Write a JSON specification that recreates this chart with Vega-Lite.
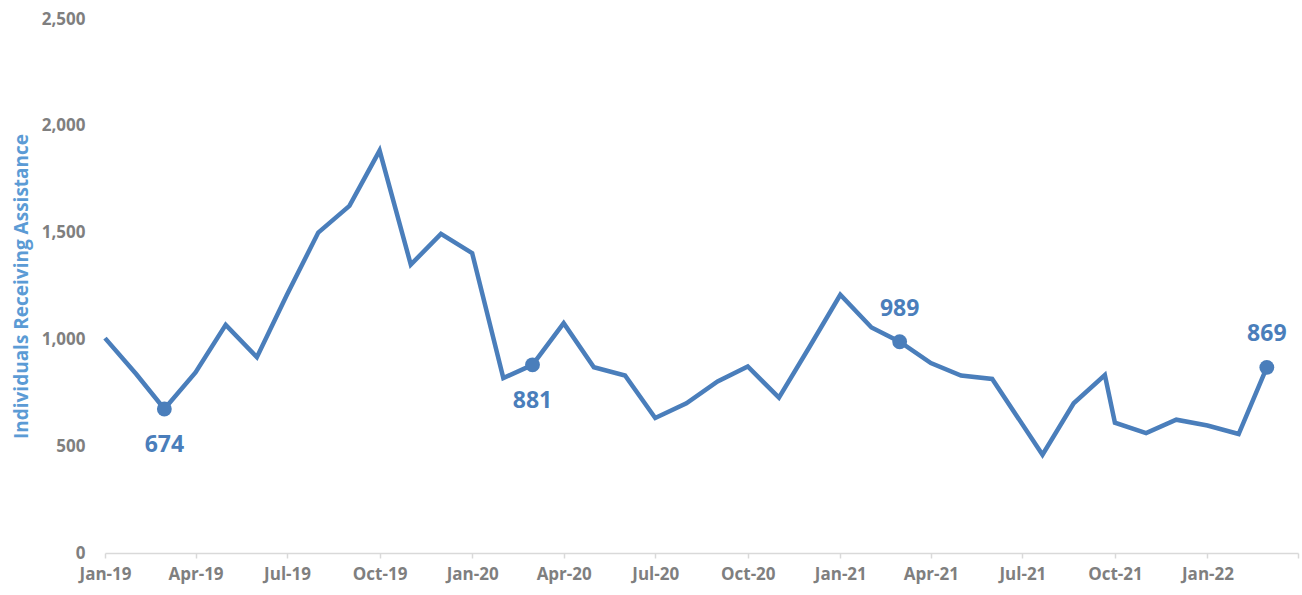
{
  "$schema": "https://vega.github.io/schema/vega-lite/v6.json",
  "width": 1193,
  "height": 534,
  "autosize": {"type": "none"},
  "padding": {"left": 105, "top": 19, "right": 4, "bottom": 42},
  "background": "white",
  "config": {"view": {"stroke": null}, "font": "Open Sans"},
  "data": {"values": [
    {"date": "2019-01-01", "value": 1006, "label": false},
    {"date": "2019-02-01", "value": 838, "label": false},
    {"date": "2019-03-01", "value": 674, "label": true},
    {"date": "2019-04-01", "value": 845, "label": false},
    {"date": "2019-05-01", "value": 1068, "label": false},
    {"date": "2019-06-01", "value": 917, "label": false},
    {"date": "2019-07-01", "value": 1210, "label": false},
    {"date": "2019-08-01", "value": 1500, "label": false},
    {"date": "2019-09-01", "value": 1625, "label": false},
    {"date": "2019-10-01", "value": 1884, "label": false},
    {"date": "2019-11-01", "value": 1350, "label": false},
    {"date": "2019-12-01", "value": 1494, "label": false},
    {"date": "2020-01-01", "value": 1404, "label": false},
    {"date": "2020-02-01", "value": 819, "label": false},
    {"date": "2020-03-01", "value": 881, "label": true},
    {"date": "2020-04-01", "value": 1076, "label": false},
    {"date": "2020-05-01", "value": 870, "label": false},
    {"date": "2020-06-01", "value": 831, "label": false},
    {"date": "2020-07-01", "value": 632, "label": false},
    {"date": "2020-08-01", "value": 701, "label": false},
    {"date": "2020-09-01", "value": 803, "label": false},
    {"date": "2020-10-01", "value": 873, "label": false},
    {"date": "2020-11-01", "value": 727, "label": false},
    {"date": "2020-12-01", "value": 962, "label": false},
    {"date": "2021-01-01", "value": 1209, "label": false},
    {"date": "2021-02-01", "value": 1056, "label": false},
    {"date": "2021-03-01", "value": 989, "label": true},
    {"date": "2021-04-01", "value": 889, "label": false},
    {"date": "2021-05-01", "value": 831, "label": false},
    {"date": "2021-06-01", "value": 815, "label": false},
    {"date": "2021-07-21", "value": 460, "label": false},
    {"date": "2021-08-21", "value": 701, "label": false},
    {"date": "2021-09-21", "value": 833, "label": false},
    {"date": "2021-10-01", "value": 610, "label": false},
    {"date": "2021-11-01", "value": 561, "label": false},
    {"date": "2021-12-01", "value": 624, "label": false},
    {"date": "2022-01-01", "value": 597, "label": false},
    {"date": "2022-02-01", "value": 557, "label": false},
    {"date": "2022-03-01", "value": 869, "label": true}
  ]},
  "encoding": {
    "x": {
      "field": "date",
      "type": "temporal",
      "scale": {"type": "utc", "domain": ["2019-01-01", "2022-04-01"]},
      "axis": {
        "title": null,
        "grid": false,
        "values": ["2019-01-01", "2019-04-01", "2019-07-01", "2019-10-01", "2020-01-01", "2020-04-01", "2020-07-01", "2020-10-01", "2021-01-01", "2021-04-01", "2021-07-01", "2021-10-01", "2022-01-01", "2022-04-01"],
        "format": "%b-%y",
        "labelExpr": "datum.value >= 1648771200000 ? '' : datum.label",
        "labelFlush": false,
        "labelOverlap": false,
        "domainColor": "#D9D9D9",
        "domainWidth": 1.5,
        "tickColor": "#D9D9D9",
        "tickWidth": 1.5,
        "tickSize": 5,
        "labelPadding": 8,
        "labelFont": "Open Sans",
        "labelFontSize": 17,
        "labelFontWeight": "bold",
        "labelColor": "#7F7F7F"
      }
    },
    "y": {
      "field": "value",
      "type": "quantitative",
      "scale": {"domain": [0, 2500], "nice": false},
      "axis": {
        "title": "Individuals Receiving Assistance",
        "titleFont": "Open Sans",
        "titleFontSize": 19,
        "titleFontWeight": "bold",
        "titleColor": "#5B9BD5",
        "titlePadding": 10,
        "values": [0, 500, 1000, 1500, 2000, 2500],
        "format": ",.0f",
        "grid": false,
        "domain": false,
        "ticks": false,
        "labelPadding": 20,
        "labelFont": "Open Sans",
        "labelFontSize": 17,
        "labelFontWeight": "bold",
        "labelColor": "#7F7F7F"
      }
    }
  },
  "layer": [
    {"mark": {"type": "line", "color": "#4A7EBB", "strokeWidth": 4.5, "strokeJoin": "miter", "strokeCap": "butt"}},
    {
      "transform": [{"filter": "datum.label"}],
      "mark": {"type": "point", "filled": true, "color": "#4A7EBB", "size": 220, "opacity": 1}
    },
    {
      "transform": [{"filter": "datum.label && utcyear(datum.date) < 2021"}],
      "mark": {"type": "text", "color": "#4A7EBB", "font": "Open Sans", "fontSize": 23, "fontWeight": "bold", "baseline": "middle", "dy": 36},
      "encoding": {"text": {"field": "value", "type": "quantitative", "format": ",.0f"}}
    },
    {
      "transform": [{"filter": "datum.label && utcyear(datum.date) >= 2021"}],
      "mark": {"type": "text", "color": "#4A7EBB", "font": "Open Sans", "fontSize": 23, "fontWeight": "bold", "baseline": "middle", "dy": -33},
      "encoding": {"text": {"field": "value", "type": "quantitative", "format": ",.0f"}}
    }
  ]
}
